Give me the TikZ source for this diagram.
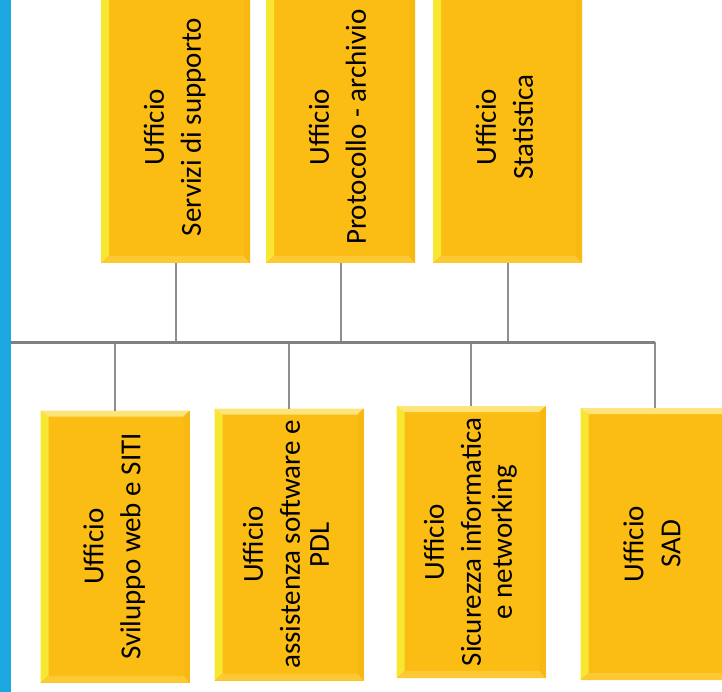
\documentclass[tikz,border=0pt]{standalone}
\usepackage{fontspec}
\setmainfont{Carlito}
\usepackage{tikz}
\usetikzlibrary{positioning, calc}
\definecolor{boxfill}{HTML}{FBBC13}
\definecolor{bevleft}{HTML}{F7E632}
\definecolor{bevtop}{HTML}{FDE57C}
\definecolor{bevbot}{HTML}{FCC834}
\definecolor{bevright}{HTML}{F8B812}
\definecolor{barblue}{HTML}{1BA8E0}
\definecolor{linegray}{HTML}{8E8E8E}
\tikzset{ufficio/.style={rectangle, fill=boxfill, minimum width=149pt, minimum height=272pt,
    inner sep=0pt, outer sep=0pt, align=center,
    font=\fontsize{29}{34}\selectfont,
    path picture={
      \fill[bevleft] (path picture bounding box.north west) -- (path picture bounding box.south west)
        -- ($(path picture bounding box.south west)+(8pt,7pt)$) -- ($(path picture bounding box.north west)+(8pt,-6pt)$) -- cycle;
      \fill[bevtop] (path picture bounding box.north west) -- (path picture bounding box.north east)
        -- ($(path picture bounding box.north east)+(-6pt,-6pt)$) -- ($(path picture bounding box.north west)+(8pt,-6pt)$) -- cycle;
      \fill[bevbot] (path picture bounding box.south west) -- (path picture bounding box.south east)
        -- ($(path picture bounding box.south east)+(-6pt,7pt)$) -- ($(path picture bounding box.south west)+(8pt,7pt)$) -- cycle;
      \fill[bevright] (path picture bounding box.north east) -- (path picture bounding box.south east)
        -- ($(path picture bounding box.south east)+(-6pt,7pt)$) -- ($(path picture bounding box.north east)+(-6pt,-6pt)$) -- cycle;
    }}}
\tikzset{link/.style={draw=linegray, line width=2pt}}
\tikzset{bus/.style={draw=linegray!90!black, line width=3pt}}
\newcommand{\ufftext}[1]{\rotatebox{90}{\begin{tabular}{@{}c@{}}#1\end{tabular}}}

\begin{document}
\begin{tikzpicture}[x=1pt, y=-1pt]
      \useasboundingbox (0,0) rectangle (722,692);
      \fill[barblue] (0,0) rectangle (11,692);

      \node[ufficio] (servizi) at (175.5,127) {\ufftext{Ufficio\\[3pt] Servizi di supporto}};
      \node[ufficio] (protocollo) at (340.5,127) {\ufftext{Ufficio\\[3pt] Protocollo - archivio}};
      \node[ufficio] (statistica) at (507.5,127) {\ufftext{Ufficio\\[3pt] Statistica}};

      \node[ufficio] (sviluppo) at (115,546.5) {\ufftext{Ufficio\\[3pt] Sviluppo web e SITI}};
      \node[ufficio] (assistenza) at (289,544.5) {\ufftext{Ufficio\\[3pt] assistenza software e\\[-5pt] PDL}};
      \node[ufficio] (sicurezza) at (471,542) {\ufftext{Ufficio\\[3pt] Sicurezza informatica\\[-3pt] e networking}};
      \node[ufficio] (sad) at (655,544) {\ufftext{Ufficio\\[3pt] SAD}};

      \coordinate (busl) at (11,342);
      \coordinate (busr) at ($(sad.north |- busl)$);

      \draw[link] (servizi.south) -- (servizi.south |- busl);
      \draw[link] (protocollo.south) -- (protocollo.south |- busl);
      \draw[link] (statistica.south) -- (statistica.south |- busl);

      \draw[link] (sviluppo.north) -- (sviluppo.north |- busl);
      \draw[link] (assistenza.north) -- (assistenza.north |- busl);
      \draw[link] (sicurezza.north) -- (sicurezza.north |- busl);
      \draw[link] (sad.north) -- (busr);

      \draw[bus] (busl) -- (busr);
\end{tikzpicture}
\end{document}
